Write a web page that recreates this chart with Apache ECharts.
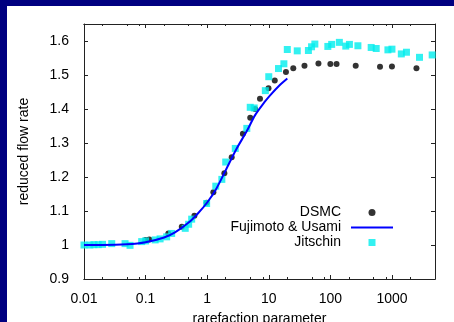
<!DOCTYPE html>
<html>
<head>
<meta charset="utf-8">
<script src="https://cdn.jsdelivr.net/npm/echarts@6/dist/echarts.min.js"></script>
<style>
  html, body { margin: 0; padding: 0; }
  #frame { position: relative; width: 454px; height: 322px; background: #000080; overflow: hidden; }
  #chart { position: absolute; left: 7px; top: 6px; width: 447px; height: 316px; background: #fff; }
</style>
</head>
<body>
<div id="frame"><div id="chart"></div></div>
<script>
// tick positions
const xMajor = [0.01, 0.1, 1, 10, 100, 1000];
const xMinor = [0.02, 0.05, 0.08, 0.2, 0.5, 0.8, 2, 5, 8, 20, 50, 80, 200, 500, 800, 2000];
const yTicks = [0.9, 1, 1.1, 1.2, 1.3, 1.4, 1.5, 1.6];

// DSMC
const dsmcX = [0.1, 0.115, 0.234, 0.387, 0.62, 0.98, 1.26, 1.9, 2.5, 3.8, 5.0, 6.0, 7.2, 9.9, 12.5, 19, 25, 38, 64, 100, 126, 258, 640, 1000, 2500];
const dsmcY = [1.015, 1.016, 1.034, 1.054, 1.086, 1.124, 1.155, 1.211, 1.258, 1.327, 1.374, 1.400, 1.430, 1.461, 1.484, 1.509, 1.520, 1.527, 1.534, 1.532, 1.532, 1.527, 1.524, 1.525, 1.520];

// Fujimoto & Usami
const fujiX = [0.01, 0.02, 0.05, 0.1, 0.2, 0.3, 0.5, 0.7, 1.0, 1.4, 2, 3, 4.4, 6, 8.5, 10.6, 15, 20];
const fujiY = [1.0, 1.0, 1.002, 1.008, 1.022, 1.037, 1.066, 1.092, 1.125, 1.165, 1.22, 1.283, 1.335, 1.382, 1.42, 1.441, 1.47, 1.49];

// Jitschin
const jitX = [0.01, 0.0125, 0.0145, 0.017, 0.02, 0.0282, 0.0464, 0.0559, 0.0864, 0.1, 0.143, 0.172, 0.22, 0.265, 0.44, 0.5, 0.56, 0.98, 1.38, 1.73, 2.0, 2.86, 4.4, 5.0, 5.8, 8.8, 10, 14.4, 17.6, 20, 29, 44, 49.5, 56, 91, 105, 140, 178, 204, 280, 460, 555, 860, 1000, 1420, 1720, 2800, 4500];
const jitY = [1.0, 1.0, 1.001, 1.001, 1.002, 1.004, 1.004, 0.999, 1.01, 1.012, 1.015, 1.018, 1.024, 1.034, 1.049, 1.061, 1.076, 1.122, 1.173, 1.193, 1.244, 1.284, 1.343, 1.405, 1.403, 1.454, 1.495, 1.519, 1.533, 1.575, 1.571, 1.572, 1.583, 1.591, 1.584, 1.59, 1.596, 1.585, 1.59, 1.586, 1.581, 1.578, 1.574, 1.576, 1.562, 1.567, 1.552, 1.559];

const FONT = 'Liberation Sans';
const AXIS_COLOR = '#222';
const X_MIN = 0.01, X_MAX = 5000;
const Y_MIN = 0.9, Y_MAX = 1.65;

const pairs = (xs, ys) => xs.map((x, i) => [x, ys[i]]);

// gnuplot-style mirrored axes: major and minor ticks drawn by separate axes
const makeX = (position, ticks, len, withLabels) => ({
  type: 'log',
  logBase: 10,
  position,
  min: X_MIN,
  max: X_MAX,
  gridIndex: 0,
  axisLine: { show: true, onZero: false, lineStyle: { color: AXIS_COLOR, width: 1 } },
  axisTick: { show: true, inside: true, length: len, customValues: ticks, lineStyle: { color: AXIS_COLOR } },
  axisLabel: withLabels ? {
    show: true, customValues: xMajor, margin: 13,
    fontFamily: FONT, fontSize: 14, color: '#000',
    formatter: (v) => String(v),
  } : { show: false },
  splitLine: { show: false },
  minorTick: { show: false },
});

const chart = echarts.init(document.getElementById('chart'));
chart.setOption({
  animation: false,
  grid: { left: 77, top: 18, right: 19, bottom: 43, outerBoundsMode: 'none', containLabel: false },
  xAxis: [
    Object.assign(makeX('bottom', xMajor, 4, true), {
      name: 'rarefaction parameter',
      nameLocation: 'middle',
      nameGap: 33,
      nameTextStyle: { fontFamily: FONT, fontSize: 14, color: '#000' },
    }),
    makeX('bottom', xMinor, 2, false),
    makeX('top', xMajor, 4, false),
    makeX('top', xMinor, 2, false),
  ],
  yAxis: [
    {
      type: 'value', position: 'left', min: Y_MIN, max: Y_MAX,
      name: 'reduced flow rate', nameLocation: 'middle', nameGap: 53,
      nameTextStyle: { fontFamily: FONT, fontSize: 14, color: '#000' },
      axisLine: { show: true, onZero: false, lineStyle: { color: AXIS_COLOR } },
      axisTick: { show: true, inside: true, length: 4, customValues: yTicks, lineStyle: { color: AXIS_COLOR } },
      axisLabel: { customValues: yTicks, margin: 15, fontFamily: FONT, fontSize: 14, color: '#000', formatter: (v) => String(v) },
      splitLine: { show: false },
    },
    {
      type: 'value', position: 'right', min: Y_MIN, max: Y_MAX,
      axisLine: { show: true, onZero: false, lineStyle: { color: AXIS_COLOR } },
      axisTick: { show: true, inside: true, length: 4, customValues: yTicks, lineStyle: { color: AXIS_COLOR } },
      axisLabel: { show: false },
      splitLine: { show: false },
    },
  ],
  legend: {
    orient: 'vertical',
    align: 'right',
    right: 55,
    top: 194,
    itemWidth: 42,
    itemHeight: 7,
    itemGap: 0,
    textStyle: { fontFamily: FONT, fontSize: 14, color: '#000', lineHeight: 15, padding: [0, 5, 0, 0] },
    data: [
      { name: 'DSMC', icon: 'circle' },
      { name: 'Fujimoto & Usami', itemStyle: { color: 'rgba(0,0,0,0)', borderWidth: 0 } },
      { name: 'Jitschin', icon: 'path://M0 0H10V10H0Z' },
    ],
  },
  series: [
    {
      name: 'DSMC', type: 'scatter', symbol: 'circle', symbolSize: 6,
      itemStyle: { color: '#000' },
      data: pairs(dsmcX, dsmcY),
    },
    {
      name: 'Fujimoto & Usami', type: 'line', smooth: 0.3, symbol: 'none', showSymbol: false,
      lineStyle: { color: '#0000ff', width: 2 },
      itemStyle: { color: '#0000ff' },
      data: pairs(fujiX, fujiY),
    },
    {
      name: 'Jitschin', type: 'scatter', symbol: 'rect', symbolSize: 7,
      itemStyle: { color: '#00eeee' },
      data: pairs(jitX, jitY),
    },
  ],
});
</script>
</body>
</html>
